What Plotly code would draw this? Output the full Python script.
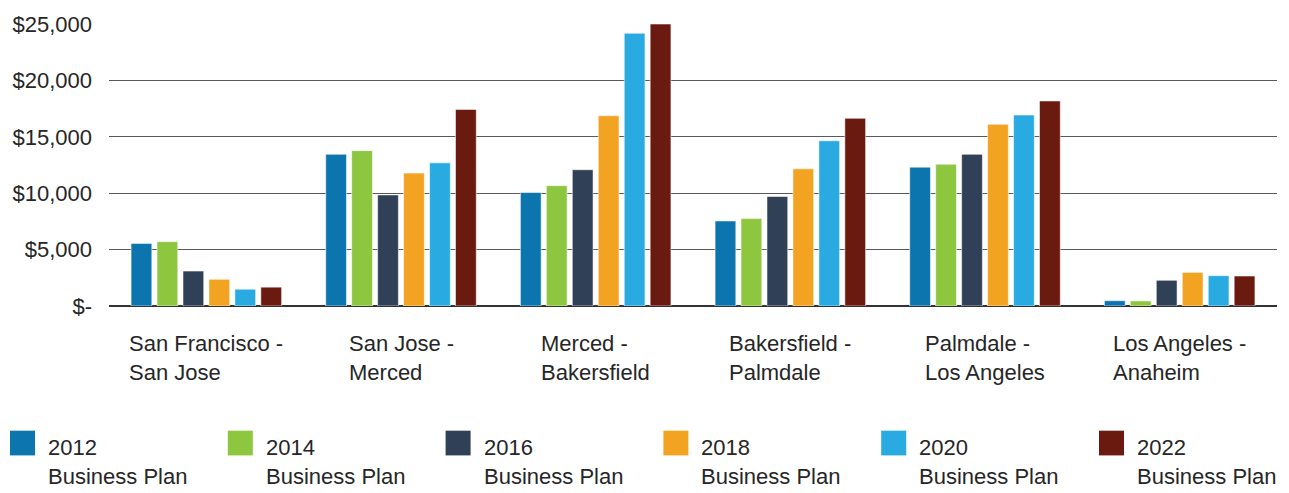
import plotly.graph_objects as go

# Segment cost estimates (millions of dollars) by business plan edition
segments = [
    "San Francisco -<br>San Jose",
    "San Jose -<br>Merced",
    "Merced -<br>Bakersfield",
    "Bakersfield -<br>Palmdale",
    "Palmdale -<br>Los Angeles",
    "Los Angeles -<br>Anaheim",
]
plan_names = ["2012", "2014", "2016", "2018", "2020", "2022"]

bp_2012 = [5550, 13450, 10060, 7540, 12310, 470]
bp_2014 = [5700, 13770, 10670, 7750, 12570, 450]
bp_2016 = [3100, 9850, 12080, 9710, 13450, 2280]
bp_2018 = [2370, 11780, 16870, 12160, 16110, 2980]
bp_2020 = [1490, 12690, 24180, 14650, 16930, 2690]
bp_2022 = [1670, 17430, 25000, 16640, 18180, 2660]

series_values = [bp_2012, bp_2014, bp_2016, bp_2018, bp_2020, bp_2022]
colors = ["#0C75AE", "#8DC63F", "#2F4057", "#F3A322", "#29ABE2", "#6B1A10"]

y_tick_vals = [0, 5000, 10000, 15000, 20000, 25000]
y_tick_text = ["$-", "$5,000", "$10,000", "$15,000", "$20,000", "$25,000"]

W, H = 1289, 493
L, R, T, B = 109, 12, 21, 187
PW, PH = W - L - R, H - T - B

FONT = "Liberation Sans, Arial, sans-serif"
TEXT_COLOR = "#262626"


def px_x(px):
    return (px - L) / PW


def px_y(py):
    return (H - B - py) / PH


fig = go.Figure()
for name, vals, col in zip(plan_names, series_values, colors):
    fig.add_trace(go.Bar(
        x=list(range(len(segments))),
        y=vals,
        name=name + " Business Plan",
        marker=dict(color=col, line=dict(color="rgba(255,255,255,0.55)", width=1)),
        showlegend=False,
    ))

annotations = []
# Category labels: left-aligned lines in a block centred under each group
for i, seg in enumerate(segments):
    annotations.append(dict(
        x=i, xref="x", y=px_y(359), yref="paper",
        text=seg, showarrow=False, xanchor="center", yanchor="middle",
        align="left", font=dict(family=FONT, size=22, color=TEXT_COLOR),
    ))

# Legend: coloured squares with two-line labels along the bottom
shapes = []
for k, (name, col) in enumerate(zip(plan_names, colors)):
    x0 = 10 + k * 217.8
    shapes.append(dict(
        type="rect", xref="paper", yref="paper",
        x0=px_x(x0), x1=px_x(x0 + 25), y0=px_y(457), y1=px_y(432),
        fillcolor=col, line=dict(width=0),
    ))
    annotations.append(dict(
        x=px_x(x0 + 36), xref="paper", y=px_y(464), yref="paper",
        text=name + "<br>Business Plan", showarrow=False,
        xanchor="left", yanchor="middle", align="left",
        font=dict(family=FONT, size=22, color=TEXT_COLOR),
    ))

fig.update_layout(
    width=W, height=H,
    margin=dict(l=L, r=R, t=T, b=B),
    paper_bgcolor="white", plot_bgcolor="white",
    barmode="group", bargap=0.2, bargroupgap=0.2,
    font=dict(family=FONT, size=22, color=TEXT_COLOR),
    xaxis=dict(
        range=[-0.5, len(segments) - 0.5],
        showticklabels=False, showgrid=False, zeroline=False,
        showline=False, ticks="",
    ),
    yaxis=dict(
        range=[0, 25000],
        tickvals=y_tick_vals, ticktext=y_tick_text,
        showgrid=True, gridcolor="#5a5a5a", gridwidth=1.3,
        zeroline=True, zerolinecolor="#333333", zerolinewidth=1.5,
        showline=False, ticks="", ticklabelstandoff=16,
        tickfont=dict(family=FONT, size=22, color=TEXT_COLOR),
    ),
    shapes=shapes,
    annotations=annotations,
    showlegend=False,
)

fig.write_html("out.html")
